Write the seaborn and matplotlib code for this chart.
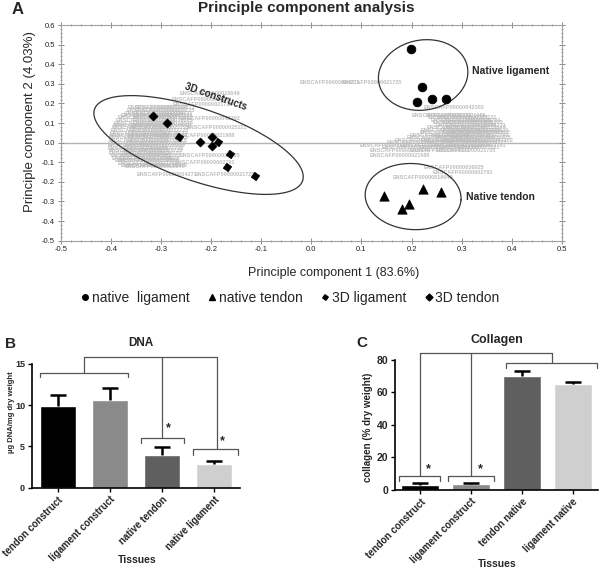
import numpy as np
import pandas as pd
import matplotlib.pyplot as plt
from matplotlib.lines import Line2D
from matplotlib.ticker import MultipleLocator, FormatStrFormatter
import seaborn as sns

sns.set_theme(style='white')
plt.rcParams['font.family'] = ['Liberation Sans', 'DejaVu Sans']
plt.rcParams['axes.unicode_minus'] = False

## PCA scores ##
lig_native_x = [0.199, 0.221, 0.210, 0.240, 0.269]
lig_native_y = [0.478, 0.285, 0.209, 0.222, 0.222]
ten_native_x = [0.144, 0.181, 0.195, 0.222, 0.259]
ten_native_y = [-0.271, -0.340, -0.315, -0.237, -0.252]
lig_3d_x = [-0.264, -0.187, -0.162, -0.168, -0.112]
lig_3d_y = [0.027, 0.005, -0.060, -0.123, -0.170]
ten_3d_x = [-0.315, -0.287, -0.222, -0.198, -0.199]
ten_3d_y = [0.136, 0.102, 0.005, 0.027, -0.017]

## gene loadings (grey labels) ##
genes_3d_x = [-0.352, -0.366, -0.372, -0.356, -0.386, -0.356, -0.394, -0.356,
              -0.398, -0.362, -0.402, -0.366, -0.404, -0.366, -0.406, -0.370,
              -0.406, -0.374, -0.404, -0.378, -0.398, -0.382, -0.386, -0.372,
              -0.368, -0.352, -0.380, -0.356, -0.390, -0.357, -0.396, -0.360,
              -0.400, -0.364, -0.403, -0.366, -0.405, -0.368, -0.406, -0.372,
              -0.405, -0.376, -0.401, -0.380, -0.392, -0.384, -0.380,
              -0.262, -0.278, -0.276, -0.262, -0.248, -0.272, -0.262, -0.272,
              -0.368, -0.348, -0.232]
genes_3d_y = [0.177, 0.177, 0.151, 0.151, 0.126, 0.126, 0.100, 0.100,
              0.075, 0.075, 0.049, 0.049, 0.024, 0.024, -0.002, -0.002,
              -0.028, -0.028, -0.053, -0.053, -0.079, -0.079, -0.104, -0.124,
              0.164, 0.164, 0.138, 0.138, 0.113, 0.113, 0.087, 0.087,
              0.062, 0.062, 0.036, 0.036, 0.011, 0.011, -0.015, -0.015,
              -0.040, -0.040, -0.066, -0.066, -0.091, -0.091, -0.117,
              0.253, 0.222, 0.197, 0.125, 0.079, 0.039, -0.063, -0.099,
              -0.114, -0.160, -0.160]
genes_nat_x = [0.223, 0.201, 0.227, 0.237, 0.257, 0.247, 0.267, 0.217,
               0.257, 0.273, 0.197, 0.237, 0.273, 0.167, 0.217, 0.257,
               0.281, 0.097, 0.177, 0.237, 0.267, 0.117, 0.197, 0.247,
               0.232, 0.250, 0.242, 0.262, 0.230, 0.268, 0.215, 0.262,
               0.275, 0.190, 0.245, 0.278, 0.150, 0.230, 0.270, 0.140,
               0.215, 0.255,
               0.117, 0.223, 0.241, 0.163, -0.023, 0.061]
genes_nat_y = [0.177, 0.141, 0.141, 0.115, 0.115, 0.090, 0.090, 0.064,
               0.064, 0.064, 0.039, 0.039, 0.039, 0.013, 0.013, 0.013,
               0.013, -0.012, -0.012, -0.012, -0.012, -0.038, -0.038, -0.038,
               0.128, 0.128, 0.103, 0.103, 0.077, 0.077, 0.052, 0.052,
               0.052, 0.026, 0.026, 0.026, 0.001, 0.001, 0.001, -0.025,
               -0.025, -0.025,
               -0.063, -0.125, -0.150, -0.176, 0.309, 0.309]
gene_ids = ['ENSCAFP00000004271', 'ENSCAFP00000021725', 'ENSCAFP00000042302',
            'ENSCAFP00000025121', 'ENSCAFP00000021988', 'ENSCAFP00000036025',
            'ENSCAFP00000002791', 'ENSCAFP00000018649']

## DNA / collagen ##
dna_tissue = ['tendon construct', 'ligament construct', 'native tendon', 'native ligament']
dna_mean = [9.85, 10.6, 3.95, 2.9]
dna_err = [1.4, 1.5, 0.95, 0.28]
col_tissue = ['tendon construct', 'ligament construct', 'tendon native', 'ligament native']
col_mean = [2.9, 3.3, 70.4, 65.4]
col_err = [1.0, 1.0, 3.1, 0.9]
bar_colors = ['#000000', '#8a8a8a', '#5f5f5f', '#cfcfcf']

fig = plt.figure(figsize=(6, 5.75), dpi=100)

# ---------- A : PCA ----------
ax = fig.add_axes([60.7/600, 1-240.7/575, 501.3/600, 215.7/575])
ax.set_xlim(-0.5, 0.5)
ax.set_ylim(-0.5, 0.6)
ax.axhline(0, color='#b4b4b4', lw=1, zorder=0.5)

for i, (gx, gy) in enumerate(zip(genes_3d_x + genes_nat_x, genes_3d_y + genes_nat_y)):
    ax.text(gx, gy, gene_ids[i % len(gene_ids)], fontsize=4, color='#bdbdbd',
            fontweight='bold', ha='left', va='center', zorder=1)

sns.scatterplot(x=lig_native_x, y=lig_native_y, marker='o', s=40, color='black',
                edgecolor='black', ax=ax, zorder=3)
sns.scatterplot(x=ten_native_x, y=ten_native_y, marker='^', s=45, color='black',
                edgecolor='black', ax=ax, zorder=3)
sns.scatterplot(x=lig_3d_x, y=lig_3d_y, marker=(4, 0, 10), s=38, color='black',
                edgecolor='black', ax=ax, zorder=3)
sns.scatterplot(x=ten_3d_x, y=ten_3d_y, marker='D', s=22, color='black',
                edgecolor='black', ax=ax, zorder=3)

fig.canvas.draw()
to_disp = ax.transData
to_data = ax.transData.inverted()
t = np.linspace(0, 2*np.pi, 300)

def ring(cx, cy, a, b, ang):
    c = to_disp.transform((cx, cy))
    r = np.deg2rad(ang)
    u = a*np.cos(t)
    v = b*np.sin(t)
    px = c[0] + u*np.cos(r) - v*np.sin(r)
    py = c[1] + u*np.sin(r) + v*np.cos(r)
    d = to_data.transform(np.column_stack([px, py]))
    ax.plot(d[:, 0], d[:, 1], color='#333333', lw=0.9, zorder=2)

ring(-0.225, -0.012, 110, 36, -19)
ring(0.223, 0.345, 45, 35, 10)
ring(0.203, -0.275, 48, 33, -4)

ax.text(-0.19, 0.233, '3D constructs', fontsize=7, fontweight='bold', rotation=-19,
        ha='center', va='center')
ax.text(0.32, 0.365, 'Native ligament', fontsize=7.5, fontweight='bold', va='center')
ax.text(0.309, -0.279, 'Native tendon', fontsize=7.5, fontweight='bold', va='center')

ax.xaxis.set_major_locator(MultipleLocator(0.1))
ax.xaxis.set_minor_locator(MultipleLocator(0.02))
ax.yaxis.set_major_locator(MultipleLocator(0.1))
ax.yaxis.set_minor_locator(MultipleLocator(0.02))
ax.xaxis.set_major_formatter(FormatStrFormatter('%.1f'))
ax.yaxis.set_major_formatter(FormatStrFormatter('%.1f'))
ax.tick_params(which='both', direction='inout', top=True, right=True, bottom=True,
               left=True, color='#8c8c8c', labelsize=5.5, labelcolor='#222222', pad=2)
ax.tick_params(which='major', length=4, width=0.7)
ax.tick_params(which='minor', length=2, width=0.6)
for lbl in ax.get_xticklabels() + ax.get_yticklabels():
    lbl.set_family(['Liberation Sans Narrow', 'Liberation Sans', 'DejaVu Sans'])
for sp in ax.spines.values():
    sp.set_color('#a0a0a0')
    sp.set_linewidth(0.8)

fig.text(18/600, 1-10/575, 'A', fontsize=12, fontweight='bold', va='center', ha='center')
fig.text(306/600, 1-8/575, 'Principle component analysis', fontsize=11,
         fontweight='bold', ha='center', va='center')
fig.text(30/600, 1-122/575, 'Principle component 2 (4.03%)', fontsize=9.5,
         rotation=90, ha='center', va='center')
fig.text(334/600, 1-273/575, 'Principle component 1 (83.6%)', fontsize=9,
         ha='center', va='center')

handles = [Line2D([], [], ls='', marker='o', color='black', markersize=4),
           Line2D([], [], ls='', marker='^', color='black', markersize=4),
           Line2D([], [], ls='', marker=(4, 0, 10), color='black', markersize=4),
           Line2D([], [], ls='', marker='D', color='black', markersize=3.5)]
fig.legend(handles, ['native  ligament', 'native tendon', '3D ligament', '3D tendon'],
           loc='center', bbox_to_anchor=(290/600, 1-298/575), ncol=4, frameon=False,
           fontsize=10, handletextpad=0.1, columnspacing=1.3, handlelength=0.7)


# ---------- bar panels ----------
def bracket(a, x0, x1, y, drop):
    a.plot([x0, x0, x1, x1], [y-drop, y, y, y-drop], color='#555555', lw=0.9,
           clip_on=False)

def vline(a, x, y0, y1):
    a.plot([x, x], [y0, y1], color='#555555', lw=0.9, clip_on=False)

def hline(a, x0, x1, y):
    a.plot([x0, x1], [y, y], color='#555555', lw=0.9, clip_on=False)

def style_bar_ax(a, tissue, ticks, tsize):
    a.set_xlim(-0.5, 3.5)
    a.set_xticks(range(4))
    a.set_xticklabels(tissue, rotation=45, ha='right', rotation_mode='anchor',
                      fontsize=7, fontweight='bold')
    a.set_yticks(ticks)
    a.set_yticklabels([str(v) for v in ticks], fontsize=tsize, fontweight='bold')
    a.tick_params(bottom=True, left=True, direction='out', length=3, width=1,
                  color='black', pad=2)
    sns.despine(ax=a)
    for s in ['left', 'bottom']:
        a.spines[s].set_color('black')
        a.spines[s].set_linewidth(1.2)
    a.set_xlabel('')
    a.set_ylabel('')

# B : DNA
axB = fig.add_axes([32/600, 1-487.7/575, 208/600, 123.7/575])
sns.barplot(x=dna_tissue, y=dna_mean, hue=dna_tissue, palette=bar_colors,
            legend=False, width=0.68, saturation=1, ax=axB)
top = np.add(dna_mean, dna_err)
axB.vlines(range(4), dna_mean, top, color='black', lw=1.8)
axB.hlines(top, np.arange(4)-0.16, np.arange(4)+0.16, color='black', lw=1.8)
axB.set_ylim(0, 15)
style_bar_ax(axB, dna_tissue, [0, 5, 10, 15], 6.5)

bracket(axB, -0.34, 1.34, 13.9, 0.5)
vline(axB, 0.5, 13.9, 15.8)
hline(axB, 0.5, 3.05, 15.8)
vline(axB, 2.0, 5.97, 15.8)
bracket(axB, 1.6, 2.42, 5.97, 0.6)
vline(axB, 3.05, 4.64, 15.8)
bracket(axB, 2.6, 3.47, 4.64, 0.65)
axB.text(2.13, 7.2, '*', fontsize=9, fontweight='bold', ha='center', va='center')
axB.text(3.17, 5.6, '*', fontsize=9, fontweight='bold', ha='center', va='center')

fig.text(10/600, 1-344/575, 'B', fontsize=11, fontweight='bold', ha='center', va='center')
fig.text(141/600, 1-343/575, 'DNA', fontsize=8.5, fontweight='bold', ha='center', va='center')
fig.text(12/600, 1-412/575, 'µg DNA/mg dry weight', fontsize=5.5, fontweight='bold',
         rotation=90, ha='center', va='center')
fig.text(137/600, 1-560/575, 'Tissues', fontsize=7.5, fontweight='bold', ha='center', va='center')

# C : collagen
axC = fig.add_axes([395/600, 1-489.7/575, 203/600, 129.7/575])
sns.barplot(x=col_tissue, y=col_mean, hue=col_tissue, palette=bar_colors,
            legend=False, width=0.75, saturation=1, ax=axC)
top = np.add(col_mean, col_err)
axC.vlines(range(4), col_mean, top, color='black', lw=1.8)
axC.hlines(top, np.arange(4)-0.16, np.arange(4)+0.16, color='black', lw=1.8)
axC.set_ylim(0, 80)
style_bar_ax(axC, col_tissue, [0, 20, 40, 60, 80], 7.5)

hline(axC, 0.0, 2.59, 84.6)
vline(axC, 0.0, 8.4, 84.6)
bracket(axC, -0.42, 0.38, 8.4, 2.8)
vline(axC, 1.0, 8.4, 84.6)
bracket(axC, 0.54, 1.46, 8.4, 2.8)
vline(axC, 2.59, 78.4, 84.6)
bracket(axC, 1.69, 3.49, 78.4, 3.5)
axC.text(0.15, 12.5, '*', fontsize=9, fontweight='bold', ha='center', va='center')
axC.text(1.18, 12.5, '*', fontsize=9, fontweight='bold', ha='center', va='center')

fig.text(362/600, 1-343/575, 'C', fontsize=11, fontweight='bold', ha='center', va='center')
fig.text(497/600, 1-340/575, 'Collagen', fontsize=9, fontweight='bold', ha='center', va='center')
fig.text(368/600, 1-427/575, 'collagen (% dry weight)', fontsize=7, fontweight='bold',
         rotation=90, ha='center', va='center')
fig.text(497/600, 1-564/575, 'Tissues', fontsize=7.5, fontweight='bold', ha='center', va='center')

fig.savefig('out.png', dpi=100)
